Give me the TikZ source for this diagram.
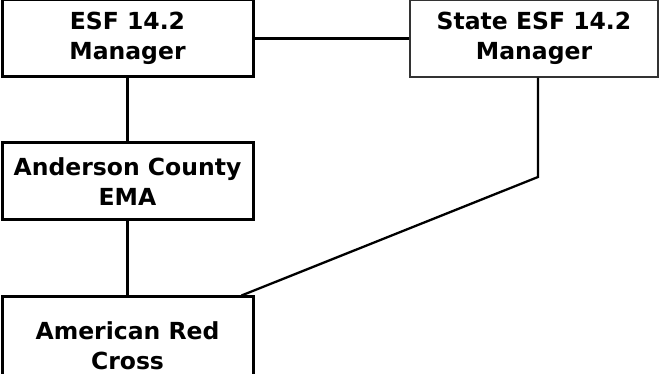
\documentclass[tikz,border=0pt]{standalone}
\usepackage{fontspec}
\setmainfont{DejaVu Sans}
\usepackage{tikz}

\begin{document}
\begin{tikzpicture}[x=1pt,y=-1pt,
    box/.style={draw,rectangle,line width=3pt,fill=white,inner sep=0pt,align=center,
      font=\fontsize{23.5}{30}\selectfont\bfseries},
    thinbox/.style={box,line width=1.3pt,draw=black!80},
    link/.style={line width=2.3pt}]
  \useasboundingbox (0,0) rectangle (662,374);
  \clip (0,0) rectangle (662,374);
  \node[box,minimum width=251pt,minimum height=77pt] (esf) at (127.5,38.5) {ESF 14.2\\Manager};
  \node[thinbox,minimum width=248pt,minimum height=77pt] (state) at (534,38.5) {State ESF 14.2\\Manager};
  \node[box,minimum width=251pt,minimum height=77pt] (ema) at (127.5,181.5) {Anderson County\\EMA};
  \node[box,minimum width=251pt,minimum height=97pt] (arc) at (127.5,345.5) {American Red\\Cross};
  \coordinate (knee) at (538,177);
  \draw[link] (esf) -- (state);
  \draw[link] (esf) -- (ema);
  \draw[link] (ema) -- (arc);
  \draw[link] (state.south -| knee) -- (knee) -- ([xshift=-13pt]arc.north east);
\end{tikzpicture}
\end{document}
